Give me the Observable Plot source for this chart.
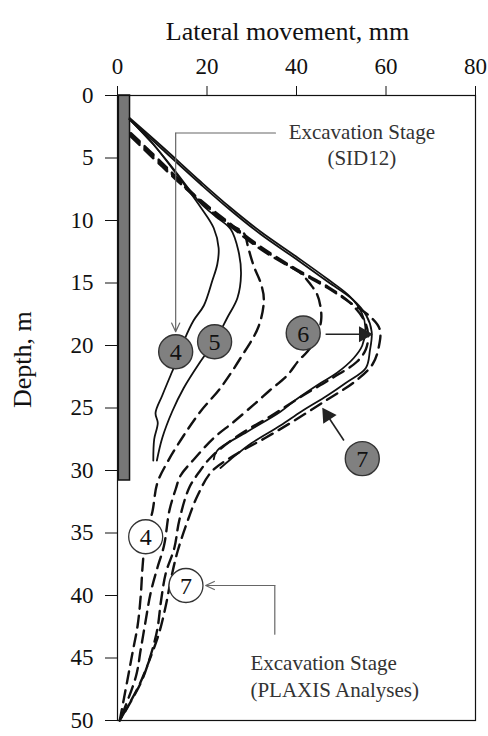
<!DOCTYPE html>
<html>
<head>
<meta charset="utf-8">
<script src="https://cdn.jsdelivr.net/npm/d3@7"></script>
<script src="https://cdn.jsdelivr.net/npm/@observablehq/plot@0.6"></script>
<style>
  html, body { margin: 0; padding: 0; background: #fff; }
</style>
</head>
<body>
<div id="chart"></div>
<script>
// ---- data: [lateral movement (mm), depth (m)] ----
const measured4 = [[2.7,1.9],[8,3.9],[13,6.2],[18.5,8.9],[21.5,10.6],[22.6,12.2],[22.3,13.5],[21.2,14.8],[19.3,16.8],[17,18],[15,19.5],[13.5,21],[12.2,22.1],[10,24],[8.5,25.4],[9,26.2],[8.2,27.5],[8,29.2]];
const measured5 = [[2.7,1.9],[8,3.9],[13,6.1],[18.5,8.6],[22,9.7],[25.3,10.7],[27,12.4],[27.6,14.3],[26.8,16.2],[24.5,17.8],[22,19.5],[18.5,21.3],[14.8,23.4],[12.2,25.3],[10,27.4],[8.8,29.2]];
const measured6 = [[2.7,1.8],[10,4.1],[18.6,6.9],[25,8.9],[32,10.9],[40,12.9],[47,14.7],[52,16.1],[54.6,17.4],[55.4,18.6],[54.7,20],[52.8,21],[49,22.2],[45.4,23],[40,24.3],[36.4,25.3],[29,26.9],[22.3,28.4],[21.5,29.1]];
const measured7 = [[2.7,1.9],[10,4.3],[18.6,7.1],[25,9.1],[32,11.1],[40,13.1],[47,14.9],[52.5,16.3],[55.6,17.6],[56.8,18.9],[56.4,20.4],[55.5,21.8],[51,23],[46.9,24],[41,25.3],[36.4,26.4],[30,27.8],[25.3,29.1],[23,29.8]];
const plaxis4 = [[3,3],[10,5.4],[17,7.9],[22,9.6],[25.5,10.4],[28.2,11],[29.3,12.3],[30.5,13.7],[32,15],[32.7,16.3],[31.5,18.5],[27.5,21],[23,23.4],[18.5,25.3],[14.8,27.2],[11.2,29.3],[8.9,31],[7.8,33.3],[6.3,35.3],[5.6,37.7],[5.2,40],[4.5,42.4],[3.4,44.5],[2.2,46.8],[0.5,50]];
const plaxis5 = [[3,3.1],[10,5.5],[17,8],[25,10.4],[32,12.3],[37.5,13.5],[40.9,14.2],[43.1,15.1],[44.6,15.9],[45.4,17],[45.5,18],[44.3,19.5],[42.4,20.5],[40.5,21.2],[37.9,22.4],[34,23.6],[31.2,24.5],[26,26.1],[21.5,27.4],[17.1,29.1],[14.1,30.4],[13,31.5],[11.6,33.2],[10.4,36],[8.9,37.8],[7.4,39.8],[6.3,42],[5.2,44.3],[4.1,46.5],[0.5,50]];
const plaxis6 = [[3,3.2],[10,5.6],[17,7.9],[25,10.2],[32,12.1],[40,13.9],[47,15.3],[52,16.6],[55,17.9],[56,19.1],[55.5,20.3],[53.5,21.3],[48,22.6],[41,24.1],[34,25.7],[27,27.2],[21,28.9],[18.5,30],[16,31.4],[13.8,34],[12.7,36.2],[10.8,38.2],[9.7,40.5],[8.9,42.7],[7.4,44.8],[5.2,47],[0.5,50]];
const plaxis7 = [[3,3.3],[10,5.7],[17,8],[25,10.3],[32,12.2],[40,14],[47,15.4],[52.5,16.7],[56.5,17.7],[58.6,18.7],[58.4,20.1],[57,21.5],[53,22.9],[47,24.3],[40,25.9],[33,27.4],[26,28.8],[21,30.1],[17.9,32],[15.6,34.1],[13.4,36.5],[12,38.6],[10.8,40.8],[9.3,43],[7.1,45.2],[4.8,47.2],[0.5,50]];

const wall = [{x1: 0.3, x2: 2.8, y1: 0, y2: 30.8}];

const stageMeasured = [[13,20.5,"4"],[21.7,19.7,"5"],[41.5,19.0,"6"],[54.7,29.05,"7"]];
const stagePlaxis = [[6.3,35.3,"4"],[15.3,39.2,"7"]];

const xTicks = [0,20,40,60,80];
const yTicks = [0,5,10,15,20,25,30,35,40,45,50];

const calloutTopLine = [[35.3,3.0],[13,3.0]];
const calloutTopArrow = [{x1:13, y1:3.0, x2:13, y2:18.9}];
const calloutBottomLine = [[35.15,43.1],[35.15,39.2]];
const calloutBottomArrow = [{x1:35.15, y1:39.2, x2:19.7, y2:39.2}];
const pointerArrows = [{x1:46.5, y1:19.1, x2:55.0, y2:19.1},{x1:50.6, y1:27.6, x2:46.9, y2:25.6}];

const notesTop = [
  {x: 54.6, y: 2.97, text: "Excavation Stage"},
  {x: 54.6, y: 5.0, text: "(SID12)"}
];
const notesBottom = [
  {x: 29.7, y: 45.4, text: "Excavation Stage"},
  {x: 29.7, y: 47.6, text: "(PLAXIS Analyses)"}
];

// ---- layout ----
const W = 488, H = 736, MT = 95, MR = 13, MB = 16, ML = 117;
const kx = (W - ML - MR) / 80, ky = (H - MT - MB) / 50;
const FONT = "Liberation Serif, Times New Roman, serif";

const toRows = arr => arr.map(([x, y]) => ({x, y}));
const solidSeries = [measured4, measured5, measured6, measured7];
const dashedSeries = [plaxis4, plaxis5, plaxis6, plaxis7];

const heads = pointerArrows.map(a => ({
  x: a.x2, y: a.y2,
  rot: Math.atan2((a.x2 - a.x1) * kx, -(a.y2 - a.y1) * ky) * 180 / Math.PI
}));

const marks = [
  Plot.rect(wall, {x1: "x1", x2: "x2", y1: "y1", y2: "y2", fill: "#777", stroke: "#111", strokeWidth: 1.5}),
  ...dashedSeries.map(s => Plot.line(toRows(s), {x: "x", y: "y", stroke: "#111", strokeWidth: 2.4, strokeDasharray: "12,7", curve: "catmull-rom"})),
  ...solidSeries.map(s => Plot.line(toRows(s), {x: "x", y: "y", stroke: "#111", strokeWidth: 1.8, curve: "catmull-rom"})),
  Plot.line(toRows(calloutTopLine), {x: "x", y: "y", stroke: "#666", strokeWidth: 1.2}),
  Plot.arrow(calloutTopArrow, {x1: "x1", y1: "y1", x2: "x2", y2: "y2", stroke: "#666", strokeWidth: 1.2, headLength: 12, headAngle: 50}),
  Plot.line(toRows(calloutBottomLine), {x: "x", y: "y", stroke: "#666", strokeWidth: 1.2}),
  Plot.arrow(calloutBottomArrow, {x1: "x1", y1: "y1", x2: "x2", y2: "y2", stroke: "#666", strokeWidth: 1.2, headLength: 12, headAngle: 50}),
  Plot.link(pointerArrows, {x1: "x1", y1: "y1", x2: "x2", y2: "y2", stroke: "#222", strokeWidth: 1.6}),
  Plot.dot(heads, {x: "x", y: "y", symbol: "triangle", r: 5, fill: "#222", stroke: "#222", rotate: "rot"}),
  Plot.dot(stageMeasured, {x: d => d[0], y: d => d[1], r: 17, fill: "#808080", stroke: "#333", strokeWidth: 1.4}),
  Plot.text(stageMeasured, {x: d => d[0], y: d => d[1], text: d => d[2], fontSize: 24, fill: "#111", fontFamily: FONT, dy: 1}),
  Plot.dot(stagePlaxis, {x: d => d[0], y: d => d[1], r: 17, fill: "white", stroke: "#333", strokeWidth: 1.3}),
  Plot.text(stagePlaxis, {x: d => d[0], y: d => d[1], text: d => d[2], fontSize: 24, fill: "#111", fontFamily: FONT, dy: 1}),
  Plot.text(notesTop, {x: "x", y: "y", text: "text", textAnchor: "middle", fontSize: 21, fill: "#333", fontFamily: FONT}),
  Plot.text(notesBottom, {x: "x", y: "y", text: "text", textAnchor: "start", fontSize: 21, fill: "#333", fontFamily: FONT}),
  Plot.frame({stroke: "#111", strokeWidth: 1.2}),
  Plot.axisX({anchor: "top", ticks: xTicks, tickSize: 10, tickPadding: 12, fontSize: 23, label: null}),
  Plot.axisY({anchor: "left", ticks: yTicks, tickSize: 12, tickPadding: 12, fontSize: 23, label: null}),
  Plot.text(["Lateral movement, mm"], {text: d => d, frameAnchor: "top", dy: -74, dx: -9, fontSize: 26, fill: "#111", fontFamily: FONT}),
  Plot.text(["Depth, m"], {text: d => d, frameAnchor: "left", dx: -95, rotate: -90, fontSize: 26, fill: "#111", fontFamily: FONT})
];

const chart = Plot.plot({
  width: W,
  height: H,
  marginTop: MT,
  marginRight: MR,
  marginBottom: MB,
  marginLeft: ML,
  style: {fontFamily: FONT, fontSize: "23px", color: "#111", background: "white"},
  x: {domain: [0, 80], label: null},
  y: {domain: [0, 50], reverse: true, label: null},
  marks
});
document.getElementById("chart").appendChild(chart);
</script>
</body>
</html>
